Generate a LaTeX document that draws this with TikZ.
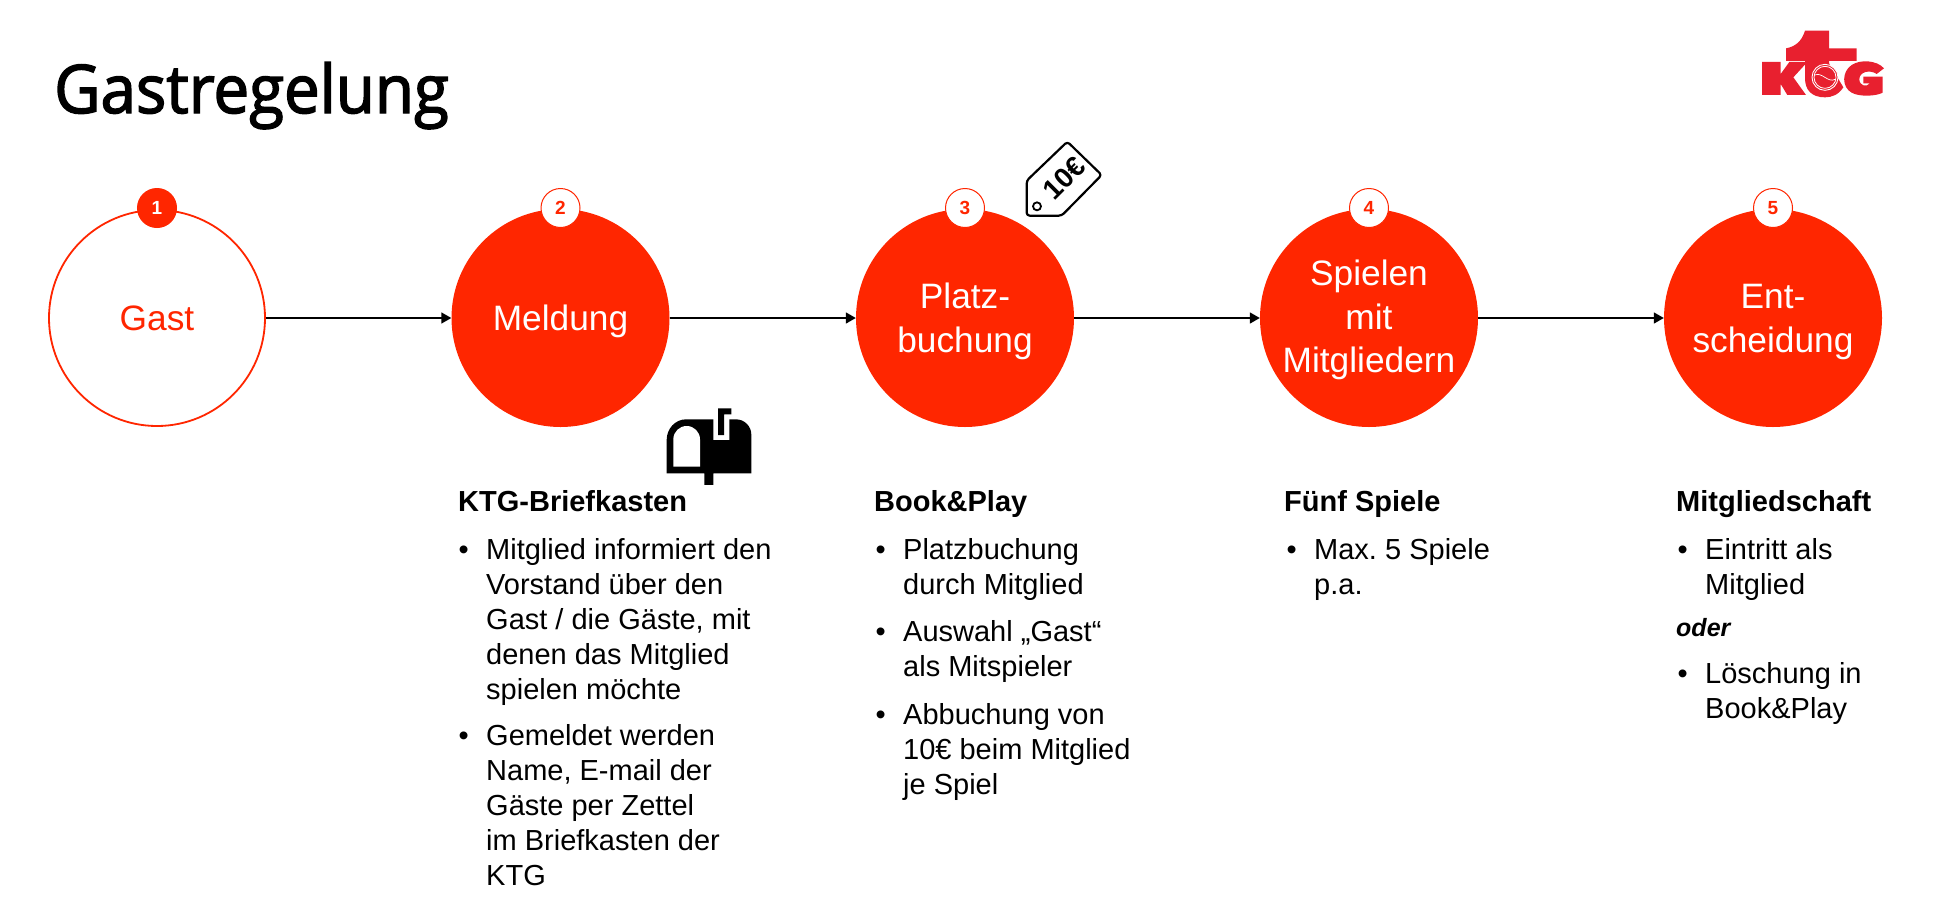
\documentclass[tikz,border=0pt]{standalone}
\usepackage{fontspec}
\setmainfont{Liberation Sans}
\newfontfamily\titlefont[FakeStretch=0.95,FakeBold=2.2]{Open Sans}
\usetikzlibrary{arrows.meta}
\definecolor{ktgred}{HTML}{FF2600}
\definecolor{logored}{HTML}{E8202F}
\newcommand\itm{\llap{•\hspace{17.5pt}}}
\newcommand\dnrule{\rule{0pt}{32pt}}
\frenchspacing
\tikzset{
  x=1pt,y=-1pt,
  solid circ/.style={circle,minimum size=218pt,inner sep=0pt,fill=ktgred,text=white,align=center,font=\fontsize{35.3}{43.5}\selectfont},
  open circ/.style={circle,minimum size=216pt,inner sep=0pt,draw=ktgred,line width=1.8pt,fill=white,text=ktgred,align=center,font=\fontsize{35.3}{43.5}\selectfont},
  badge/.style={circle,minimum size=39pt,inner sep=0pt,draw=ktgred,line width=1pt,fill=white,text=ktgred,font=\fontsize{19}{20}\selectfont\bfseries},
  badge first/.style={badge,fill=ktgred,text=white},
  flow/.style={draw=black,line width=1.6pt,-{Triangle[length=10pt,width=11pt]}},
  head/.style={anchor=north west,inner sep=0pt,align=left,font=\fontsize{29}{35}\selectfont\bfseries},
  body/.style={anchor=north west,inner sep=0pt,align=left,font=\fontsize{29}{35}\selectfont},
  title text/.style={anchor=base west,inner sep=0pt,font=\fontsize{67}{70}\titlefont},
}
\begin{document}
\begin{tikzpicture}
\useasboundingbox (0,0) rectangle (1940,921);
\fill[white] (0,0) rectangle (1940,921);
\node[title text] (title) at (54,113) {Gastregelung};
% logo
\begin{scope}[shift={(1700,0)},x=0.3333pt,y=-0.3333pt,fill=logored]
\fill (315,92) -- (387,92) -- (387,145) -- (470,145) -- (470,183) -- (387,183) -- (387,200) -- (315,200) -- (315,183) -- (258,183) -- (258,145) .. controls (285,140) and (305,125) .. (315,92) -- cycle;
\fill (186,186) -- (242,186) -- (242,222) -- (268,186) -- (322,186) -- (280,232) -- (318,285) -- (262,285) -- (242,252) -- (242,285) -- (186,285) -- cycle;
\fill (315,190) -- (387,190) -- (430,262) .. controls (415,285) and (395,292) .. (375,292) .. controls (335,292) and (315,270) .. (315,235) -- cycle;
\fill (552,205) .. controls (530,180) and (480,178) .. (455,195) .. controls (425,215) and (425,262) .. (455,278) .. controls (480,292) and (530,288) .. (548,278) -- (548,230) -- (490,230) -- (490,250) -- (510,250) .. controls (500,262) and (478,258) .. (478,238) .. controls (478,215) and (510,208) .. (530,222) -- cycle;
\draw[white,line width=0.9pt,fill=logored] (375,232) circle (39);
\draw[white,line width=0.8pt] (375,232) circle (33);
\draw[white,line width=0.7pt] (345,225) .. controls (365,215) and (385,250) .. (405,238);
\end{scope}
% steps
\node[open circ]  (c1) at (157,318) {Gast};
\node[solid circ] (c2) at (560.5,318) {\dnrule Meldung};
\node[solid circ] (c3) at (965,318) {\dnrule Platz-\\buchung};
\node[solid circ] (c4) at (1369,318) {\rule{0pt}{30pt}Spielen\\mit\\Mitgliedern};
\node[solid circ] (c5) at (1773,318) {\dnrule Ent-\\scheidung};
\node[badge first] (b1) at (157,208) {1};
\node[badge] (b2) at (560.5,208) {2};
\node[badge] (b3) at (965,208) {3};
\node[badge] (b4) at (1369,208) {4};
\node[badge] (b5) at (1773,208) {5};
\draw[flow] (c1) -- (c2);
\draw[flow] (c2) -- (c3);
\draw[flow] (c3) -- (c4);
\draw[flow] (c4) -- (c5);
% tag
\begin{scope}[shift={(980,120)},x=0.3333pt,y=-0.3333pt]
\draw[black,line width=2.2pt,line join=round,rounded corners=3pt] (262,65) -- (365,165) -- (245,287) -- (140,287) -- (140,182) -- cycle;
\draw[black,line width=1.8pt] (171,259) circle (12);
\node[rotate=45,inner sep=0pt,font=\fontsize{28}{30}\selectfont\bfseries] (tagtext) at (252,175) {10€};
\end{scope}
% mailbox
\begin{scope}[shift={(640,390)},x=0.3333pt,y=-0.3333pt]
\fill[black] (80,250) -- (80,150) arc[start angle=180,end angle=90,x radius=58,y radius=-62] -- (220,88) -- (220,150) -- (268,150) -- (268,88) -- (288,88) arc[start angle=90,end angle=0,x radius=46,y radius=-46] -- (334,250) -- (220,250) -- (220,285) -- (193,285) -- (193,250) -- cycle;
\fill[white] (100,230) -- (100,148) arc[start angle=180,end angle=0,x radius=40,y radius=-40] -- (180,230) -- cycle;
\fill[black] (234,135) -- (234,55) -- (274,55) -- (274,73) -- (252,73) -- (252,135) -- cycle;
\end{scope}
% texts
\node[head] (h2) at (458,490) {KTG-Briefkasten};
\node[body] (t21) at (486,538) {\itm Mitglied informiert den\\Vorstand über den\\Gast / die Gäste, mit\\denen das Mitglied\\spielen möchte};
\node[body] (t22) at (486,724) {\itm Gemeldet werden\\Name, E-mail der\\Gäste per Zettel\\im Briefkasten der\\KTG};
\node[head] (h3) at (874,490) {Book\&Play};
\node[body] (t31) at (903,538) {\itm Platzbuchung\\durch Mitglied};
\node[body] (t32) at (903,620) {\itm Auswahl „Gast“\\als Mitspieler};
\node[body] (t33) at (903,703) {\itm Abbuchung von\\10€ beim Mitglied\\je Spiel};
\node[head] (h4) at (1284,490) {Fünf Spiele};
\node[body] (t41) at (1314,538) {\itm Max. 5 Spiele\\p.a.};
\node[head] (h5) at (1676,490) {Mitgliedschaft};
\node[body] (t51) at (1705,538) {\itm Eintritt als\\Mitglied};
\node[anchor=north west,inner sep=0pt,font=\fontsize{25}{30}\selectfont\bfseries\itshape] (t52) at (1676,618) {oder};
\node[body] (t53) at (1705,662) {\itm Löschung in\\Book\&Play};
\end{tikzpicture}
\end{document}
